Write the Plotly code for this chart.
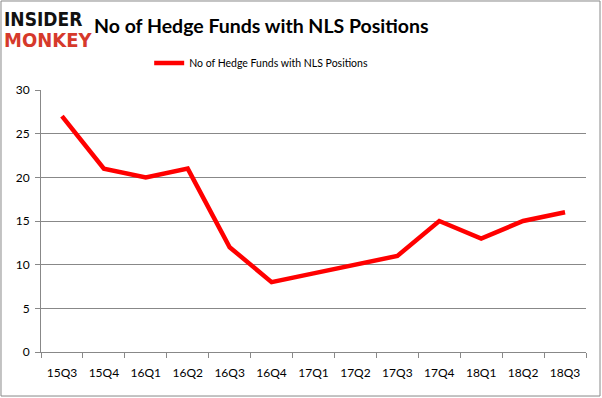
import plotly.graph_objects as go

quarters = ["15Q3", "15Q4", "16Q1", "16Q2", "16Q3", "16Q4", "17Q1",
            "17Q2", "17Q3", "17Q4", "18Q1", "18Q2", "18Q3"]
funds = [27, 21, 20, 21, 12, 8, 9, 10, 11, 15, 13, 15, 16]
series_name = "No of Hedge Funds with NLS Positions"
title_text = "No of Hedge Funds with NLS Positions"

fig = go.Figure()
fig.add_trace(go.Scatter(
    x=quarters, y=funds, mode="lines", name=series_name,
    line=dict(color="#ff0000", width=4.5),
))

fig.update_layout(
    width=602, height=398,
    margin=dict(l=41, r=16, t=90, b=46, autoexpand=False),
    paper_bgcolor="white", plot_bgcolor="white",
    font=dict(family="Lato", size=12, color="#000000"),
    showlegend=True,
    legend=dict(orientation="h", x=0.404, xanchor="center", y=1.103, yanchor="middle",
                font=dict(size=10.5), itemwidth=30, bgcolor="rgba(0,0,0,0)"),
    xaxis=dict(
        type="category", tickson="boundaries", ticks="outside", ticklen=5,
        tickcolor="#888888", showline=True, linecolor="#888888", linewidth=1,
        showgrid=False, tickfont=dict(size=12), range=[-0.5, 12.5],
        automargin=False, ticklabelstandoff=10,
    ),
    yaxis=dict(
        range=[0, 30], dtick=5, showgrid=True, gridcolor="#888888", gridwidth=1,
        showline=True, linecolor="#888888", ticks="outside", ticklen=5,
        tickcolor="#888888", tickfont=dict(size=12), zeroline=False,
        automargin=False, ticklabelstandoff=3,
    ),
    shapes=[dict(type="rect", xref="paper", yref="paper", x0=-0.0734, y0=-0.168,
                 x1=1.0257, y1=1.3397, line=dict(color="#888888", width=1))],
)

fig.add_annotation(
    text="<b>" + title_text + "</b>", xref="paper", yref="paper",
    x=0.4037, y=1.245, xanchor="center", yanchor="middle", showarrow=False,
    font=dict(family="Lato", size=19.5, color="#000000"),
)
fig.add_annotation(
    text="<b>INSIDER</b>", xref="paper", yref="paper",
    x=-0.0716, y=1.271, xanchor="left", yanchor="middle", showarrow=False,
    font=dict(family="Liberation Sans Narrow, DejaVu Sans Condensed", size=19, color="#111111"),
)
fig.add_annotation(
    text="<b>MONKEY</b>", xref="paper", yref="paper",
    x=-0.0716, y=1.191, xanchor="left", yanchor="middle", showarrow=False,
    font=dict(family="Liberation Sans Narrow, DejaVu Sans Condensed", size=20, color="#d6392b"),
)

fig.write_html("out.html", config={"displayModeBar": False},
               post_script="document.body.style.margin='0';")
